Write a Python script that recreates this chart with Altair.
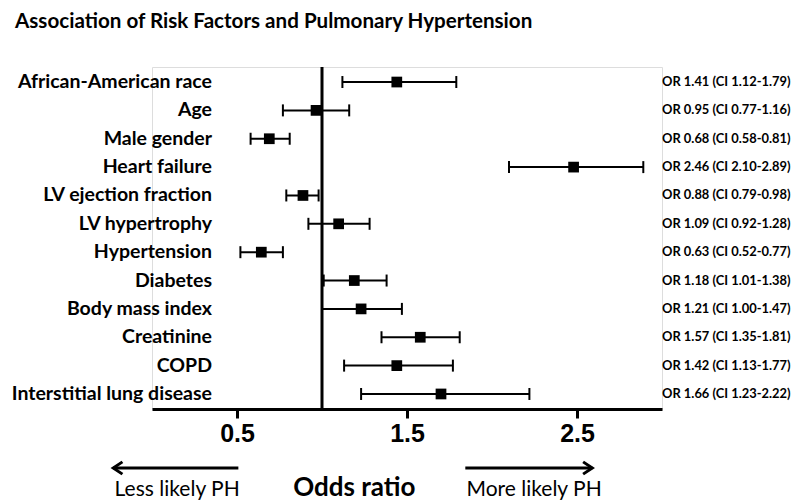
import altair as alt
import pandas as pd

# ---- data ----
factors = ["African-American race", "Age", "Male gender", "Heart failure",
           "LV ejection fraction", "LV hypertrophy", "Hypertension", "Diabetes",
           "Body mass index", "Creatinine", "COPD", "Interstitial lung disease"]
or_label = [1.41, 0.95, 0.68, 2.46, 0.88, 1.09, 0.63, 1.18, 1.21, 1.57, 1.42, 1.66]
ci_lo = [1.12, 0.77, 0.58, 2.10, 0.79, 0.92, 0.52, 1.01, 1.00, 1.35, 1.13, 1.23]
ci_hi = [1.79, 1.16, 0.81, 2.89, 0.98, 1.28, 0.77, 1.38, 1.47, 1.81, 1.77, 2.22]
# square positions as drawn in the picture
or_drawn = [1.44, 0.965, 0.69, 2.48, 0.888, 1.098, 0.643, 1.19, 1.23, 1.578, 1.44, 1.70]
x_ticks = [0.5, 1.5, 2.5]

title_text = "Association of Risk Factors and Pulmonary Hypertension"
axis_title = "Odds ratio"
less_text = "Less likely PH"
more_text = "More likely PH"

df = pd.DataFrame({
    "factor": factors,
    "or_pt": or_drawn,
    "lo": ci_lo,
    "hi": ci_hi,
    "label": [f"OR {o:.2f} (CI {l:.2f}-{h:.2f})" for o, l, h in zip(or_label, ci_lo, ci_hi)],
})

W, H = 510, 342
FONT = "Lato"

xscale = alt.Scale(domain=[0, 3], nice=False, zero=False)
yscale = alt.Scale(type="point", domain=factors, padding=0.53)

xenc = alt.X("or_pt:Q", scale=xscale,
             axis=alt.Axis(values=x_ticks, format=".1f", title=None, grid=False,
                           domainColor="black", domainWidth=3, tickColor="black",
                           tickWidth=3, tickSize=9, labelFont="Liberation Sans",
                           labelFontWeight="bold", labelFontSize=25, labelColor="black",
                           labelPadding=3))
yenc = alt.Y("factor:N", scale=yscale, axis=None)

base = alt.Chart(df)

whisker = base.mark_rule(color="black", strokeWidth=2).encode(
    x=alt.X("lo:Q", scale=xscale), x2="hi:Q", y=yenc)
cap_lo = base.mark_tick(color="black", thickness=2, size=12, opacity=1).encode(
    x=alt.X("lo:Q", scale=xscale), y=yenc)
cap_hi = base.mark_tick(color="black", thickness=2, size=12, opacity=1).encode(
    x=alt.X("hi:Q", scale=xscale), y=yenc)
squares = base.mark_square(color="black", size=115, opacity=1).encode(x=xenc, y=yenc)

vline = alt.Chart(pd.DataFrame({"v": [1.0]})).mark_rule(color="black", strokeWidth=3).encode(
    x=alt.X("v:Q", scale=xscale), y=alt.value(0), y2=alt.value(H))

ylabels = base.mark_text(align="right", baseline="middle", font=FONT, fontWeight="bold",
                         fontSize=19.5, color="black").encode(
    x=alt.value(60), y=yenc, text="factor:N")

rlabels = base.mark_text(align="left", baseline="middle", font=FONT, fontWeight="bold",
                         fontSize=12.9, color="black").encode(
    x=alt.value(510), y=yenc, text="label:N")

# chart title as a text mark placed above the plot
title_mark = alt.Chart(pd.DataFrame({"t": [title_text]})).mark_text(
    align="left", baseline="alphabetic", font=FONT, fontWeight="bold", fontSize=20.6,
    color="black").encode(x=alt.value(-137), y=alt.value(-39), text="t:N")

# bottom annotations: arrows and captions
arrows = pd.DataFrame({"x1": [0.508, 1.843], "x2": [-0.228, 2.59]})
arrow_lines = alt.Chart(arrows).mark_rule(color="black", strokeWidth=3).encode(
    x=alt.X("x1:Q", scale=xscale), x2="x2:Q", y=alt.value(401))
head_left = alt.Chart(pd.DataFrame({"x": [-0.228]})).mark_point(
    shape="M1.5,-1L0,0L1.5,1", size=150, filled=False, color="black", strokeWidth=3,
    opacity=1).encode(x=alt.X("x:Q", scale=xscale), y=alt.value(401))
head_right = alt.Chart(pd.DataFrame({"x": [2.59]})).mark_point(
    shape="M-1.5,-1L0,0L-1.5,1", size=150, filled=False, color="black", strokeWidth=3,
    opacity=1).encode(x=alt.X("x:Q", scale=xscale), y=alt.value(401))

captions = pd.DataFrame({"x": [-0.22, 1.85], "t": [less_text, more_text]})
caption_text = alt.Chart(captions).mark_text(align="left", baseline="middle", font=FONT,
                                             fontSize=21, color="black").encode(
    x=alt.X("x:Q", scale=xscale), y=alt.value(423), text="t:N")

odds_title = alt.Chart(pd.DataFrame({"x": [1.19], "t": [axis_title]})).mark_text(
    align="center", baseline="middle", font=FONT, fontWeight="bold", fontSize=26,
    color="black").encode(x=alt.X("x:Q", scale=xscale), y=alt.value(421), text="t:N")

chart = alt.layer(
    vline, whisker, cap_lo, cap_hi, squares, ylabels, rlabels, title_mark,
    arrow_lines, head_left, head_right, caption_text, odds_title,
).properties(
    width=W, height=H,
    autosize=alt.AutoSizeParams(type="none"),
    padding={"left": 144, "top": 59, "right": 130, "bottom": 92},
).configure_view(stroke=None).configure(background="white")

chart.save("out.html", embed_options={"renderer": "svg", "actions": False})
